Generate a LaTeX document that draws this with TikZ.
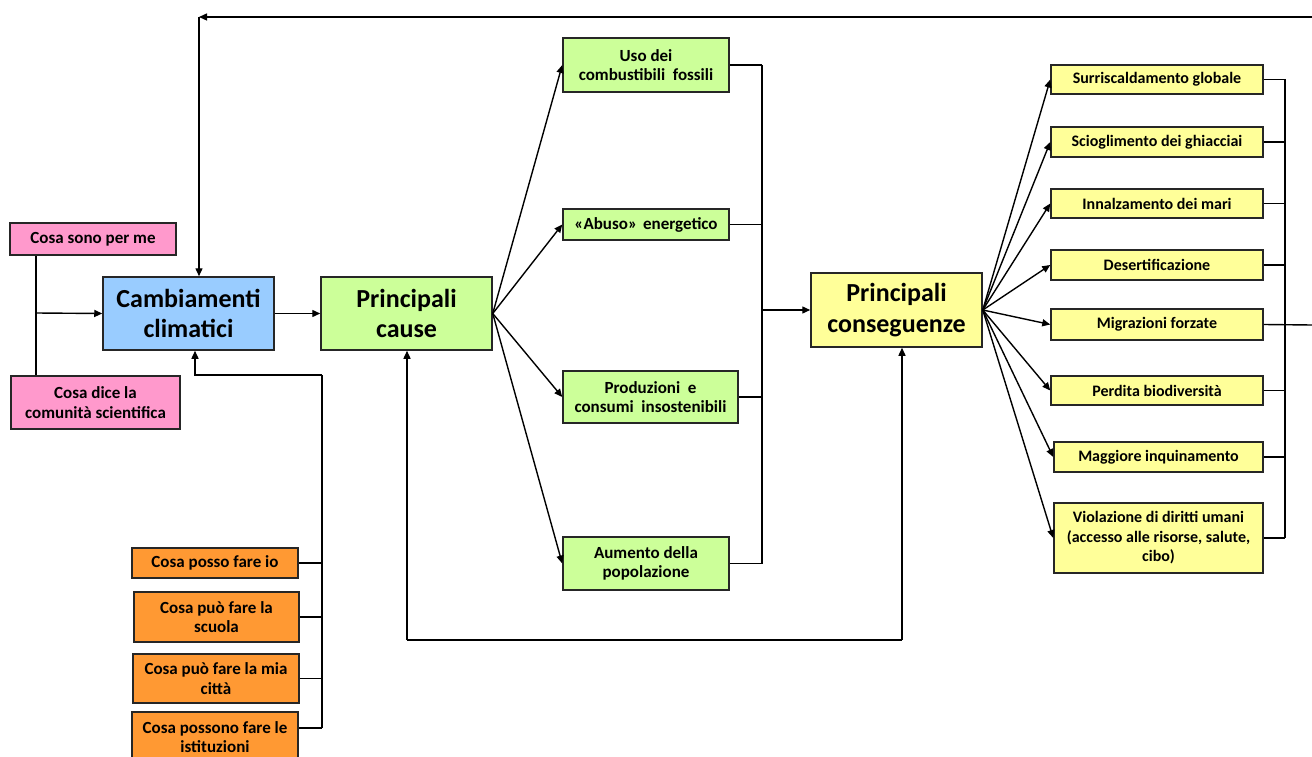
\documentclass[tikz,border=0pt]{standalone}
\usepackage{fontspec}
\setmainfont{Carlito}
\usetikzlibrary{arrows.meta,calc}
\definecolor{cpink}{RGB}{255,153,204}
\definecolor{cblue}{RGB}{153,204,255}
\definecolor{cgreen}{RGB}{204,255,153}
\definecolor{cyellow}{RGB}{255,255,153}
\definecolor{corange}{RGB}{255,153,51}
\tikzset{
  box/.style={draw=black!85, line width=1.5pt, inner sep=0pt, align=center,
    font=\bfseries\fontsize{17}{19.5}\selectfont},
  bigbox/.style={box, font=\bfseries\fontsize{26}{30.5}\selectfont},
  conbox/.style={box, fill=cyellow, font=\bfseries\fontsize{16}{19.5}\selectfont},
  ln/.style={line width=1.4pt, black},
  arr/.style={ln, -{Triangle[length=8pt,width=7pt]}},
}
\begin{document}
\begin{tikzpicture}[x=1pt,y=-1pt]
\useasboundingbox (0,0) rectangle (1312,757);
% left pink
\node[box, fill=cpink, minimum width=166pt, minimum height=32pt] (s1) at (93,239) {Cosa sono per me};
\node[box, fill=cpink, minimum width=169pt, minimum height=53pt] (s2) at (95.5,402.5) {Cosa dice la\\comunità scientifica};
% main
\node[bigbox, fill=cblue, minimum width=171pt, minimum height=73pt] (cc) at (188.5,313.5) {Cambiamenti\\climatici};
\node[bigbox, fill=cgreen, minimum width=171pt, minimum height=73pt] (pc) at (406.5,313.5) {Principali\\cause};
\node[bigbox, fill=cyellow, minimum width=171pt, minimum height=74pt] (pq) at (896.5,310) {Principali\\conseguenze};
% causes
\node[box, fill=cgreen, minimum width=166pt, minimum height=54pt] (c1) at (646,65) {Uso dei\\combustibili\ \ fossili};
\node[box, fill=cgreen, minimum width=166pt, minimum height=31pt] (c2) at (646,224.5) {«Abuso»\hspace{0.35em}energetico};
\node[box, fill=cgreen, minimum width=175pt, minimum height=52pt] (c3) at (650.5,397) {Produzioni\ \ e\\consumi\ \ insostenibili};
\node[box, fill=cgreen, minimum width=166pt, minimum height=53pt] (c4) at (646,563.5) {Aumento della\\popolazione};
% consequences
\node[conbox, minimum width=212pt, minimum height=29pt] (q1) at (1157,79.5) {Surriscaldamento globale};
\node[conbox, minimum width=212pt, minimum height=30pt] (q2) at (1157,142) {Scioglimento dei ghiacciai};
\node[conbox, minimum width=212pt, minimum height=29pt] (q3) at (1157,203.5) {Innalzamento dei mari};
\node[conbox, minimum width=212pt, minimum height=30pt] (q4) at (1157,265) {Desertificazione};
\node[conbox, minimum width=212pt, minimum height=31pt] (q5) at (1157,324.5) {Migrazioni forzate};
\node[conbox, minimum width=212pt, minimum height=29pt] (q6) at (1157,390.5) {Perdita biodiversità};
\node[conbox, minimum width=209pt, minimum height=30pt] (q7) at (1158.5,457) {Maggiore inquinamento};
\node[conbox, minimum width=209pt, minimum height=70pt] (q8) at (1158.5,538) {Violazione di diritti umani\\(accesso alle risorse, salute,\\cibo)};
% orange
\node[box, fill=corange, minimum width=166pt, minimum height=30pt] (o1) at (215,563) {Cosa posso fare io};
\node[box, fill=corange, minimum width=165pt, minimum height=50pt] (o2) at (216.5,617) {Cosa può fare la\\scuola};
\node[box, fill=corange, minimum width=166pt, minimum height=49pt] (o3) at (216,678.5) {Cosa può fare la mia\\città};
\node[box, fill=corange, minimum width=166pt, minimum height=50pt] (o4) at (215,737) {Cosa possono fare le\\istituzioni};
% coordinates
\coordinate (jl) at (36,313);
\coordinate (tr) at (1312,17);
\coordinate (tl) at (199,17);
\coordinate (bt) at (322,375);
\coordinate (cb) at (762,310);
\coordinate (qb) at (1285,325);
\coordinate (qr) at (1312,325);
\coordinate (bl) at (407,640);
\coordinate (br) at (902,640);
% left connectors
\draw[ln] (jl |- s1.south) -- (jl |- s2.north);
\draw[arr] (jl) -- (cc.west);
\draw[arr] (cc.east) -- (pc.west);
% top loop
\draw[arr] (tr) -- (tl);
\draw[arr] (tl) -- (tl |- cc.north);
% orange bus
\draw[arr] (bt) -| ([xshift=6.5pt]cc.south);
\draw[ln] (bt) -- (bt |- 0,728);
\draw[ln] (o1.east) -- (o1.east -| bt);
\draw[ln] (o2.east) -- (o2.east -| bt);
\draw[ln] (o3.east) -- (o3.east -| bt);
\draw[ln] ([yshift=9pt]o4.east) -- ([yshift=9pt]o4.east -| bt);
% causes
\draw[arr] (pc.east) -- (c1.west);
\draw[arr] (pc.east) -- (c2.west);
\draw[arr] (pc.east) -- (c3.west);
\draw[arr] (pc.east) -- (c4.west);
\draw[ln] (c1.east) -- (c1.east -| cb);
\draw[ln] (c2.east) -- (c2.east -| cb);
\draw[ln] (c3.east) -- (c3.east -| cb);
\draw[ln] (c4.east) -- (c4.east -| cb);
\draw[ln] (cb |- c1.east) -- (cb |- c4.east);
\draw[arr] (cb) -- (pq.west);
% consequences
\foreach \q in {q1,q2,q3,q4,q5,q6,q7,q8}{
  \draw[arr] (pq.east) -- (\q.west);
  \draw[ln] (\q.east) -- (\q.east -| qb);
}
\draw[ln] (qb |- q1.east) -- (qb |- q8.east);
\draw[ln] (q5.east) -- (qr);
% bottom loop
\draw[ln] (bl) -- (br);
\draw[arr] (bl) -- (bl |- pc.south);
\draw[arr] (br) -- (br |- pq.south);
\end{tikzpicture}
\end{document}
